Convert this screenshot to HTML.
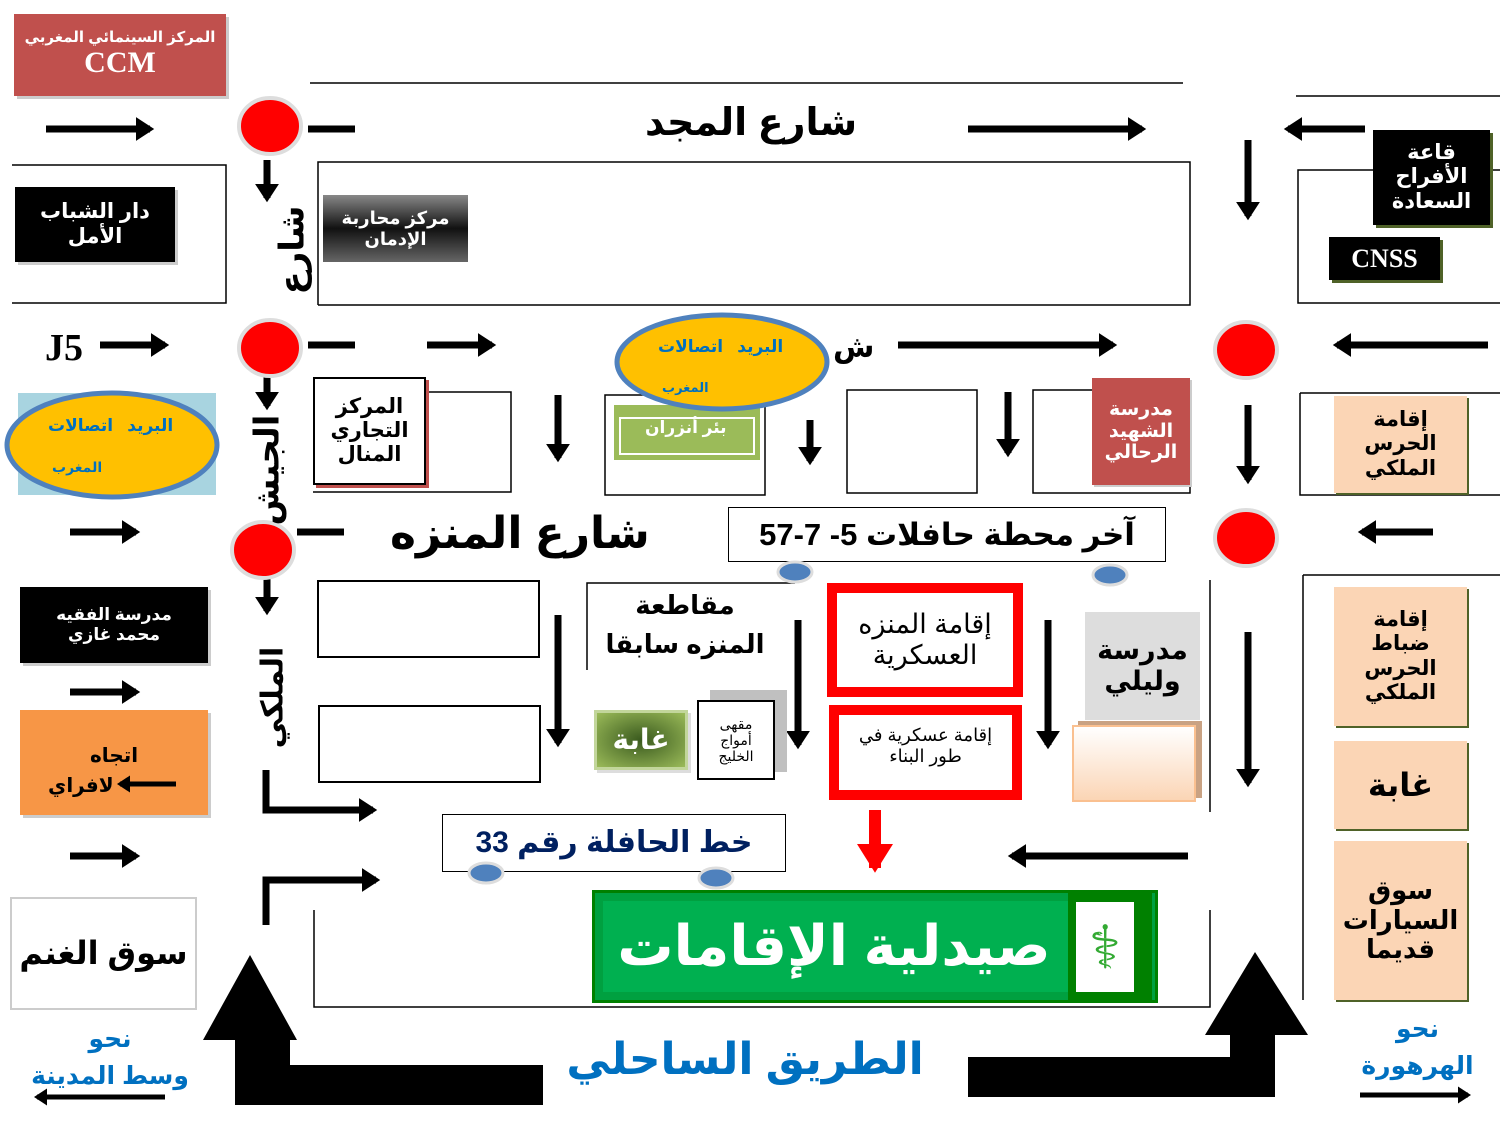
<!DOCTYPE html>
<html><head><meta charset="utf-8"><style>
body{margin:0;width:1500px;height:1125px;background:#fff;position:relative;overflow:hidden;font-family:"Liberation Sans","DejaVu Sans",sans-serif}
.b{position:absolute;box-sizing:border-box;display:flex;align-items:center;justify-content:center;text-align:center;direction:rtl;font-weight:bold;line-height:1.15}
.t{position:absolute;direction:rtl;font-weight:bold;white-space:nowrap}
svg{position:absolute;left:0;top:0}
</style></head><body>
<svg width="1500" height="1125" viewBox="0 0 1500 1125">
<defs>
<marker id="a" markerWidth="4" markerHeight="4" refX="2" refY="2" orient="auto" markerUnits="strokeWidth"><path d="M0,0.3 L2.6,2 L0,3.7z" fill="#000"/></marker>
<marker id="r" markerWidth="4" markerHeight="4" refX="2" refY="2" orient="auto" markerUnits="strokeWidth"><path d="M0,0.5 L2.4,2 L0,3.5z" fill="#f00"/></marker>
</defs>
<g stroke="#000" stroke-width="1.5" fill="none">
<line x1="310" y1="83" x2="1183" y2="83"/>
<line x1="1296" y1="96" x2="1500" y2="96"/>
<path d="M12 165H226V303H12"/>
<path d="M318 305V162H1190V305H318"/>
<path d="M1500 170H1298V303H1500"/>
<path d="M313 392H511V492H313"/>
<path d="M605 395H765V495H605z"/>
<path d="M847 390H977V493H847z"/>
<path d="M1033 390H1190V493H1033z"/>
<path d="M1300 393H1500M1300 393V495H1500"/>
<path d="M587 670V583H795"/>
<line x1="1210" y1="580" x2="1210" y2="812"/>
<path d="M1303 575V1000M1303 575H1500"/>
<path d="M314 910V1007H1210V910"/>
</g>
<g stroke="#000" stroke-width="7" fill="none" marker-end="url(#a)">
<line x1="46" y1="129" x2="150" y2="129"/>
<line x1="968" y1="129" x2="1142" y2="129"/>
<line x1="1365" y1="129" x2="1288" y2="129"/>
<line x1="267" y1="160" x2="267" y2="198"/>
<line x1="1248" y1="140" x2="1248" y2="216"/>
<line x1="100" y1="345" x2="165" y2="345"/>
<line x1="427" y1="345" x2="492" y2="345"/>
<line x1="898" y1="345" x2="1113" y2="345"/>
<line x1="1488" y1="345" x2="1337" y2="345"/>
<line x1="267" y1="375" x2="267" y2="406"/>
<line x1="558" y1="395" x2="558" y2="458"/>
<line x1="810" y1="420" x2="810" y2="461"/>
<line x1="1008" y1="392" x2="1008" y2="453"/>
<line x1="1248" y1="405" x2="1248" y2="480"/>
<line x1="70" y1="532" x2="136" y2="532"/>
<line x1="1433" y1="532" x2="1362" y2="532"/>
<line x1="267" y1="578" x2="267" y2="611"/>
<line x1="558" y1="615" x2="558" y2="743"/>
<line x1="798" y1="620" x2="798" y2="745"/>
<line x1="1048" y1="620" x2="1048" y2="745"/>
<line x1="1248" y1="632" x2="1248" y2="783"/>
<line x1="70" y1="692" x2="136" y2="692"/>
<line x1="70" y1="856" x2="136" y2="856"/>
<line x1="1188" y1="856" x2="1012" y2="856"/>
<path d="M266 770V810H373"/>
<path d="M266 925V880H376"/>
<line x1="165" y1="1097" x2="37" y2="1097" stroke-width="5"/>
<line x1="1360" y1="1095" x2="1468" y2="1095" stroke-width="5"/>
</g>
<g stroke="#000" stroke-width="7">
<line x1="308" y1="129" x2="355" y2="129"/>
<line x1="308" y1="345" x2="355" y2="345"/>
<line x1="297" y1="532" x2="344" y2="532"/>
</g>
<line x1="875" y1="810" x2="875" y2="868" stroke="#f00" stroke-width="12" marker-end="url(#r)"/>
<g fill="#f00" stroke="#ddd" stroke-width="4">
<ellipse cx="270" cy="126" rx="31" ry="28"/>
<ellipse cx="270" cy="348" rx="31" ry="28"/>
<ellipse cx="263" cy="550" rx="31" ry="28"/>
<ellipse cx="1246" cy="350" rx="31" ry="28"/>
<ellipse cx="1246" cy="538" rx="31" ry="28"/>
</g>
<path d="M250 955L297 1040H290V1065H543V1105H235V1040H203z" fill="#000"/>
<path d="M1255 952L1308 1035H1275V1097H968V1057H1230V1035H1205z" fill="#000"/>
<rect x="18" y="393" width="198" height="102" fill="#a8d4e0"/>
<ellipse cx="112" cy="445" rx="105" ry="52" fill="#ffc000" stroke="#4f81bd" stroke-width="5"/>
<rect x="614" y="405" width="146" height="55" fill="#9bbb59"/>
<rect x="620" y="418" width="134" height="36" fill="none" stroke="#fff" stroke-width="2"/>
<ellipse cx="722" cy="362" rx="105" ry="47" fill="#ffc000" stroke="#4f81bd" stroke-width="5"/>
</svg>

<div class="b" style="left:14px;top:14px;width:212px;height:82px;background:#c0504d;color:#fff;flex-direction:column;box-shadow:3px 3px 0 #ccc"><div style="font-size:15px">المركز السينمائي المغربي</div><div style="font-family:'Liberation Serif',serif;font-size:30px">CCM</div></div>
<div class="t" style="left:645px;top:100px;font-size:38px">شارع المجد</div>
<div class="b" style="left:15px;top:187px;width:160px;height:75px;background:#000;color:#fff;font-size:21px;box-shadow:3px 3px 0 #ccc">دار الشباب<br>الأمل</div>
<div class="b" style="left:323px;top:195px;width:145px;height:67px;background:linear-gradient(#888,#111 50%,#666);color:#fff;font-size:18px">مركز محاربة<br>الإدمان</div>
<div class="t" style="left:248px;top:230px;font-size:34px;transform:rotate(-90deg);transform-origin:center">شارع</div>
<div class="b" style="left:1373px;top:130px;width:117px;height:95px;background:#000;color:#fff;font-size:21px;box-shadow:3px 3px 0 #4f6228">قاعة<br>الأفراح<br>السعادة</div>
<div class="b" style="left:1329px;top:237px;width:111px;height:43px;background:#000;color:#fff;font-size:26px;font-family:'Liberation Serif',serif;box-shadow:3px 3px 0 #4f6228">CNSS</div>
<div class="t" style="left:45px;top:326px;font-size:38px;font-family:'Liberation Serif',serif">J5</div>
<div class="t" style="left:658px;top:337px;font-size:17px;color:#0070c0">البريد&nbsp;&nbsp; اتصالات</div>
<div class="t" style="left:662px;top:380px;font-size:13px;color:#0070c0">المغرب</div>
<div class="t" style="left:833px;top:330px;font-size:30px">ش</div>
<div class="t" style="left:48px;top:416px;font-size:17px;color:#0070c0">البريد&nbsp;&nbsp; اتصالات</div>
<div class="t" style="left:52px;top:459px;font-size:14px;color:#0070c0">المغرب</div>
<div class="t" style="left:212px;top:450px;font-size:34px;transform:rotate(-90deg)">الجيش</div>
<div class="b" style="left:313px;top:377px;width:113px;height:108px;background:#fff;border:2px solid #000;font-size:21px;box-shadow:3px 3px 0 #c0504d">المركز<br>التجاري<br>المنال</div>
<div class="t" style="left:645px;top:418px;font-size:17px;color:#fff">بئر أنزران</div>
<div class="b" style="left:1092px;top:378px;width:98px;height:107px;background:#c0504d;color:#fff;font-size:19px;box-shadow:2px 2px 0 #ccc">مدرسة<br>الشهيد<br>الرحالي</div>
<div class="b" style="left:1334px;top:396px;width:133px;height:97px;background:#fbd5b5;font-size:21px;box-shadow:2px 2px 0 #4f6228">إقامة<br>الحرس<br>الملكي</div>
<div class="t" style="left:390px;top:508px;font-size:44px">شارع المنزه</div>
<div class="b" style="left:728px;top:507px;width:438px;height:55px;border:1.5px solid #000;font-size:31px;background:#fff">آخر محطة حافلات 5- 7-57</div>
<div class="b" style="left:20px;top:587px;width:188px;height:76px;background:#000;color:#fff;font-size:17px;box-shadow:3px 3px 0 #ccc">مدرسة الفقيه<br>محمد غازي</div>
<div class="b" style="left:317px;top:580px;width:223px;height:78px;border:2px solid #000"></div>
<div class="b" style="left:318px;top:705px;width:223px;height:78px;border:2px solid #000"></div>
<div class="b" style="left:600px;top:585px;width:170px;height:80px;font-size:26px;line-height:1.5">مقاطعة<br>المنزه سابقا</div>
<div class="b" style="left:827px;top:583px;width:196px;height:114px;border:10px solid #f00;font-size:27px;font-weight:normal;background:#fff">إقامة المنزه<br>العسكرية</div>
<div class="b" style="left:829px;top:705px;width:193px;height:95px;border:10px solid #f00;font-size:18px;font-weight:normal;background:#fff;padding-bottom:14px">إقامة عسكرية في<br>طور البناء</div>
<div class="b" style="left:1085px;top:612px;width:115px;height:108px;background:#ddd;font-size:27px">مدرسة<br>وليلي</div>
<div class="b" style="left:1072px;top:725px;width:124px;height:77px;background:linear-gradient(#fff,#fbd5b5);border:2px solid #fac090;box-shadow:6px -4px 0 #c9a283"></div>
<div class="t" style="left:222px;top:680px;font-size:30px;transform:rotate(-90deg)">الملكي</div>
<div style="position:absolute;left:20px;top:710px;width:188px;height:105px;background:#f79646;box-shadow:3px 3px 0 #ccc"></div>
<div class="t" style="left:90px;top:743px;font-size:20px">اتجاه</div>
<div class="t" style="left:48px;top:773px;font-size:20px">لافراي</div>
<svg width="1500" height="1125" style="pointer-events:none"><defs><marker id="a2" markerWidth="4" markerHeight="4" refX="2" refY="2" orient="auto" markerUnits="strokeWidth"><path d="M0,0.3 L2.6,2 L0,3.7z" fill="#000"/></marker></defs><line x1="176" y1="784" x2="120" y2="784" stroke="#000" stroke-width="5" marker-end="url(#a2)"/></svg>
<div class="b" style="left:594px;top:710px;width:94px;height:60px;background:radial-gradient(#3a5a1e,#9bbb59);border:3px solid #c2d69b;color:#fff;font-size:28px;box-shadow:3px 3px 0 #ddd">غابة</div>
<div style="position:absolute;left:710px;top:690px;width:77px;height:82px;background:#c0c0c0"></div>
<div class="b" style="left:697px;top:700px;width:78px;height:80px;background:#fff;border:2px solid #000;font-size:14px;font-weight:normal">مقهى<br>أمواج<br>الخليج</div>
<div class="b" style="left:1334px;top:587px;width:133px;height:139px;background:#fbd5b5;font-size:21px;box-shadow:2px 2px 0 #4f6228">إقامة<br>ضباط<br>الحرس<br>الملكي</div>
<div class="b" style="left:1334px;top:741px;width:133px;height:88px;background:#fbd5b5;font-size:32px;box-shadow:2px 2px 0 #4f6228">غابة</div>
<div class="b" style="left:1334px;top:841px;width:133px;height:159px;background:#fbd5b5;font-size:26px;box-shadow:2px 2px 0 #4f6228">سوق<br>السيارات<br>قديما</div>
<div class="b" style="left:442px;top:814px;width:344px;height:58px;border:1.5px solid #000;color:#002060;font-size:30px;background:#fff">خط الحافلة رقم 33</div>
<svg width="1500" height="1125"><g fill="#4f81bd" stroke="#ddd" stroke-width="3">
<ellipse cx="795" cy="572" rx="17" ry="10"/><ellipse cx="1110" cy="575" rx="17" ry="10"/>
<ellipse cx="486" cy="873" rx="17" ry="10"/><ellipse cx="716" cy="878" rx="17" ry="10"/></g></svg>
<div style="position:absolute;left:595px;top:893px;width:560px;height:107px;box-sizing:border-box;background:#00b050;border:8px solid #00a040;outline:3px solid #008000"></div>
<div class="b" style="left:600px;top:893px;width:468px;height:107px;color:#fff;font-size:56px">صيدلية الإقامات</div>
<div style="position:absolute;left:1068px;top:893px;width:84px;height:107px;background:#008000"></div>
<div class="b" style="left:1076px;top:902px;width:58px;height:90px;background:#fff;color:#3a3;font-size:60px">⚕</div>
<div class="b" style="left:10px;top:897px;width:187px;height:113px;border:2px solid #ccc;font-size:32px;background:#fff">سوق الغنم</div>
<div class="b" style="left:545px;top:1025px;width:400px;height:70px;font-size:44px;color:#0070c0;white-space:nowrap">الطريق الساحلي</div>
<div class="b" style="left:20px;top:1020px;width:180px;height:75px;color:#0070c0;font-size:25px;line-height:1.45">نحو<br>وسط المدينة</div>
<div class="b" style="left:1345px;top:1010px;width:145px;height:75px;color:#0070c0;font-size:25px;line-height:1.45">نحو<br>الهرهورة</div>
</body></html>
